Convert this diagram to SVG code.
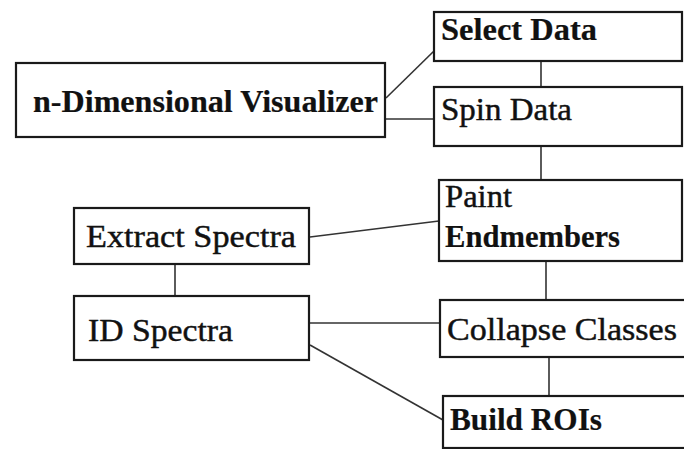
<svg xmlns="http://www.w3.org/2000/svg" width="684" height="449" viewBox="0 0 684 449">
<style>
.box{fill:#fff;stroke:#1a1a1a;stroke-width:2.2}
.con{stroke:#333;stroke-width:1.6;fill:none}
.t{font-family:"Liberation Serif","Times New Roman",serif;font-size:32px;fill:#111;stroke:#111;stroke-width:0.45}
.b{font-weight:bold;stroke-width:0.2}
</style>
<rect width="684" height="449" fill="#fff"/>
<g id="connectors">
<line class="con" x1="386" y1="98" x2="434" y2="51"/>
<line class="con" x1="386" y1="119" x2="434" y2="119"/>
<line class="con" x1="541" y1="61" x2="541" y2="87"/>
<line class="con" x1="541" y1="146" x2="541" y2="180"/>
<line class="con" x1="310" y1="237" x2="439" y2="221"/>
<line class="con" x1="175" y1="264" x2="175" y2="296"/>
<line class="con" x1="546" y1="261" x2="546" y2="300"/>
<line class="con" x1="310" y1="323" x2="440" y2="323"/>
<line class="con" x1="549" y1="357" x2="549" y2="396"/>
<line class="con" x1="310" y1="345" x2="443" y2="420"/>
</g>
<g id="ndim">
<rect class="box" x="16" y="63" width="369" height="74"/>
<text class="t b" x="33" y="112" textLength="345" lengthAdjust="spacingAndGlyphs">n-Dimensional Visualizer</text>
</g>
<g id="select">
<rect class="box" x="434" y="12" width="248" height="49"/>
<text class="t b" x="441" y="40" textLength="156" lengthAdjust="spacingAndGlyphs">Select Data</text>
</g>
<g id="spin">
<rect class="box" x="434" y="87" width="248" height="59"/>
<text class="t" x="441" y="120" textLength="131" lengthAdjust="spacingAndGlyphs">Spin Data</text>
</g>
<g id="paint">
<rect class="box" x="439" y="180" width="243" height="81"/>
<text class="t" x="445" y="207" textLength="67" lengthAdjust="spacingAndGlyphs">Paint</text>
<text class="t b" x="445" y="247" textLength="175" lengthAdjust="spacingAndGlyphs">Endmembers</text>
</g>
<g id="extract">
<rect class="box" x="74" y="208" width="235" height="56"/>
<text class="t" x="86" y="247" textLength="210" lengthAdjust="spacingAndGlyphs">Extract Spectra</text>
</g>
<g id="id">
<rect class="box" x="74" y="296" width="235" height="64"/>
<text class="t" x="88" y="341" textLength="145" lengthAdjust="spacingAndGlyphs">ID Spectra</text>
</g>
<g id="collapse">
<rect class="box" x="440" y="300" width="260" height="57"/>
<text class="t" x="447" y="340" textLength="230" lengthAdjust="spacingAndGlyphs">Collapse Classes</text>
</g>
<g id="build">
<rect class="box" x="443" y="396" width="260" height="52"/>
<text class="t b" x="450" y="430" textLength="152" lengthAdjust="spacingAndGlyphs">Build ROIs</text>
</g>
</svg>
